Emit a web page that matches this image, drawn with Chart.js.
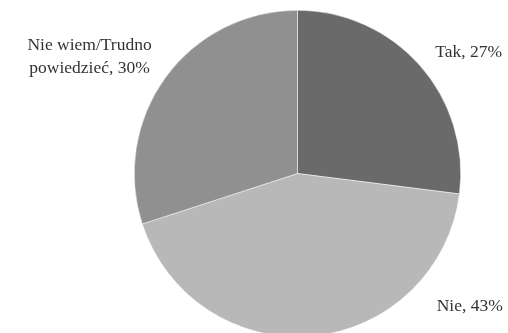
<!DOCTYPE html>
<html>
<head>
<meta charset="utf-8">
<script src="https://cdn.jsdelivr.net/npm/chart.js@4/dist/chart.umd.min.js"></script>
<style>
  html, body { margin: 0; padding: 0; background: #fff; overflow: hidden; }
  #wrap { width: 508px; height: 341px; }
</style>
</head>
<body>
<div id="wrap"><canvas id="c" width="508" height="341"></canvas></div>
<script>
// Survey answers and their shares (%)
const categories = ['Tak', 'Nie', 'Nie wiem/Trudno powiedzieć'];
const shares = [27, 43, 30];
const sliceColors = ['#6a6a6a', '#b8b8b8', '#909090'];

// Label anchors, as multiples of the pie radius from its centre
const labelAnchors = [
  { fx: 1.049, fy: -0.744 },
  { fx: 1.055, fy: 0.817 },
  { fx: -1.274, fy: -0.716 }
];

const FONT = '17.5px "Liberation Serif", "Times New Roman", serif';
const LINE_H = 23;
const MAX_W = 140;

function wrapText(ctx, text, maxW) {
  const words = text.split(' ');
  const lines = [];
  let cur = '';
  for (const w of words) {
    const t = cur ? cur + ' ' + w : w;
    if (cur && ctx.measureText(t).width > maxW) { lines.push(cur); cur = w; }
    else cur = t;
  }
  if (cur) lines.push(cur);
  return lines;
}

const sliceLabels = {
  id: 'sliceLabels',
  afterDatasetsDraw(chart) {
    const ctx = chart.ctx;
    const meta = chart.getDatasetMeta(0);
    ctx.save();
    ctx.font = FONT;
    ctx.fillStyle = '#333333';
    ctx.textAlign = 'center';
    ctx.textBaseline = 'middle';
    meta.data.forEach((arc, i) => {
      const r = arc.outerRadius;
      const a = labelAnchors[i];
      const x = arc.x + r * a.fx;
      const y = arc.y + r * a.fy;
      const text = categories[i] + ', ' + chart.data.datasets[0].data[i] + '%';
      const lines = wrapText(ctx, text, MAX_W);
      const y0 = y - (lines.length - 1) * LINE_H / 2;
      lines.forEach((ln, k) => ctx.fillText(ln, x, y0 + k * LINE_H));
    });
    ctx.restore();
  }
};

new Chart(document.getElementById('c'), {
  type: 'pie',
  data: {
    labels: categories,
    datasets: [{
      data: shares,
      backgroundColor: sliceColors,
      borderColor: '#ffffff',
      borderWidth: 0.5
    }]
  },
  options: {
    responsive: false,
    animation: false,
    layout: { padding: { left: 134, right: 47, top: 10, bottom: 4 } },
    plugins: {
      legend: { display: false },
      tooltip: { enabled: false }
    }
  },
  plugins: [sliceLabels]
});
</script>
</body>
</html>
